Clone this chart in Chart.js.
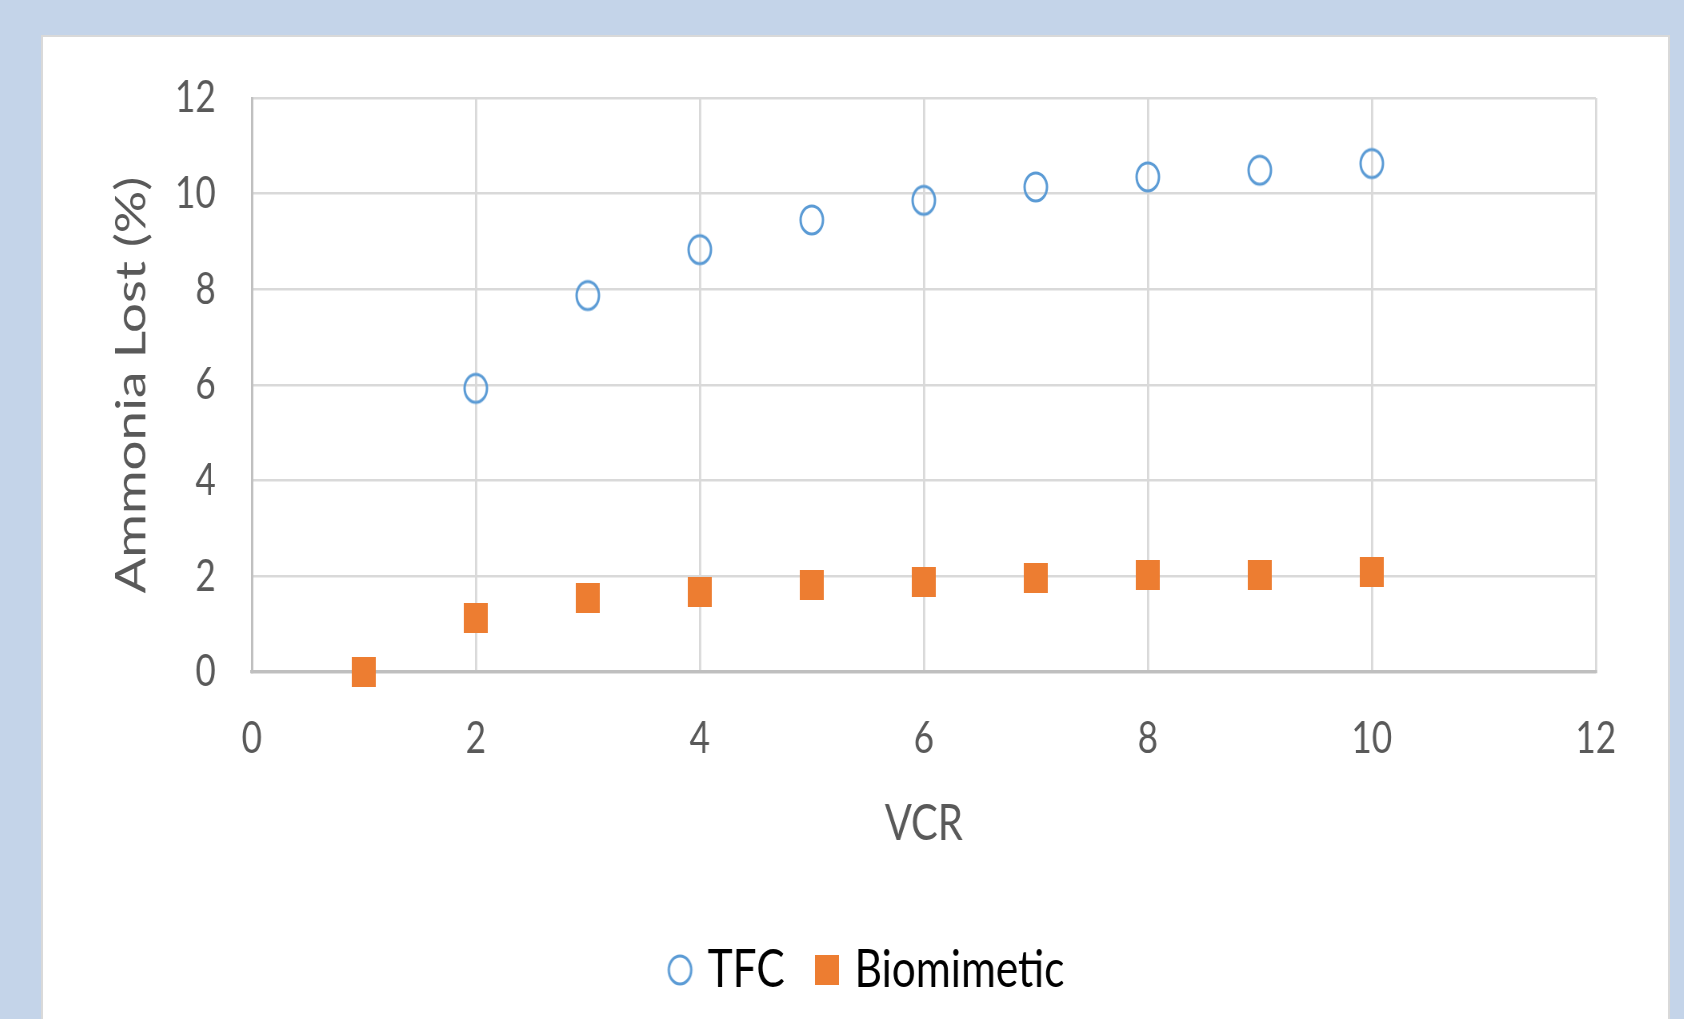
<!DOCTYPE html>
<html>
<head>
<meta charset="utf-8">
<title>Ammonia Lost vs VCR</title>
<script src="https://cdn.jsdelivr.net/npm/chart.js@4.4.1/dist/chart.umd.min.js"></script>
<style>
  html, body { margin: 0; padding: 0; }
  body { width: 1684px; height: 1019px; background: #c4d4e9; overflow: hidden; position: relative; }
  #panel { position: absolute; left: 43px; top: 37px; width: 1625px; height: 982px; background: #fff; box-shadow: 0 0 0 2px #d9d9d9; overflow: hidden; }
  /* the source picture is squeezed sideways, so the chart is drawn wide and squeezed too */
  #squeeze { width: 2031px; height: 982px; transform: scaleX(0.8); transform-origin: 0 0; }
</style>
</head>
<body>
<div id="panel"><div id="squeeze"><canvas id="scatterChart" width="2031" height="982"></canvas></div></div>
<script>
const tfcVcr = [2, 3, 4, 5, 6, 7, 8, 9, 10];
const tfcLost = [5.93, 7.87, 8.83, 9.45, 9.86, 10.14, 10.35, 10.49, 10.63];
const bioVcr = [1, 2, 3, 4, 5, 6, 7, 8, 9, 10];
const bioLost = [0.0, 1.13, 1.54, 1.68, 1.82, 1.88, 1.96, 2.03, 2.03, 2.09];
const xTicks = [0, 2, 4, 6, 8, 10, 12];
const yTicks = [0, 2, 4, 6, 8, 10, 12];

const grey = '#595959';
const font = 'Lato';

function ringMarker() {
  const c = document.createElement('canvas');
  c.width = 34; c.height = 34;
  const g = c.getContext('2d');
  g.strokeStyle = '#5b9bd5';
  g.lineWidth = 3;
  g.beginPath();
  g.ellipse(17, 17, 14, 14, 0, 0, Math.PI * 2);
  g.stroke();
  return c;
}

function squareMarker() {
  const c = document.createElement('canvas');
  c.width = 30; c.height = 30;
  const g = c.getContext('2d');
  g.fillStyle = '#ed7d31';
  g.fillRect(0, 0, 30, 30);
  return c;
}

function pairs(xs, ys) {
  return xs.map((x, i) => ({x: x, y: ys[i]}));
}

new Chart(document.getElementById('scatterChart'), {
  type: 'scatter',
  data: {
    datasets: [{
      label: 'TFC',
      data: pairs(tfcVcr, tfcLost),
      pointStyle: ringMarker(),
      borderColor: '#5b9bd5',
      backgroundColor: 'rgba(0,0,0,0)',
      clip: false
    }, {
      label: 'Biomimetic',
      data: pairs(bioVcr, bioLost),
      pointStyle: squareMarker(),
      borderColor: '#ed7d31',
      backgroundColor: '#ed7d31',
      clip: false
    }]
  },
  options: {
    responsive: false,
    animation: false,
    events: [],
    layout: {
      padding: {top: 61, right: 90, bottom: 12.5, left: 124}
    },
    plugins: {
      tooltip: {enabled: false},
      legend: {
        position: 'bottom',
        labels: {
          usePointStyle: true,
          boxWidth: 16,
          padding: 45,
          color: '#000',
          font: {family: font, size: 53}
        }
      }
    },
    scales: {
      x: {
        type: 'linear',
        min: xTicks[0],
        max: xTicks[xTicks.length - 1],
        afterBuildTicks: s => { s.ticks = xTicks.map(v => ({value: v})); },
        afterFit: s => { s.height = 226.5; },
        grid: {color: '#d9d9d9', lineWidth: 2.8, drawTicks: false},
        border: {color: '#bfbfbf', width: 3.3},
        ticks: {padding: 40, color: grey, maxRotation: 0, autoSkip: false, font: {family: font, size: 44}},
        title: {display: true, text: 'VCR', color: grey, font: {family: font, size: 50}, padding: {top: 0, bottom: 45}}
      },
      y: {
        type: 'linear',
        min: yTicks[0],
        max: yTicks[yTicks.length - 1],
        afterBuildTicks: s => { s.ticks = yTicks.map(v => ({value: v})); },
        afterFit: s => { s.width = 137; },
        grid: {color: '#d9d9d9', lineWidth: 2.5, drawTicks: true, tickLength: 40, tickColor: 'rgba(0,0,0,0)'},
        border: {color: '#bfbfbf', width: 2.8},
        ticks: {padding: 5, color: grey, font: {family: font, size: 44}},
        title: {display: true, text: 'Ammonia Lost (%)', color: grey, font: {family: font, size: 53, lineHeight: 1}, padding: {top: -39.5, bottom: 0}}
      }
    }
  }
});
</script>
</body>
</html>
